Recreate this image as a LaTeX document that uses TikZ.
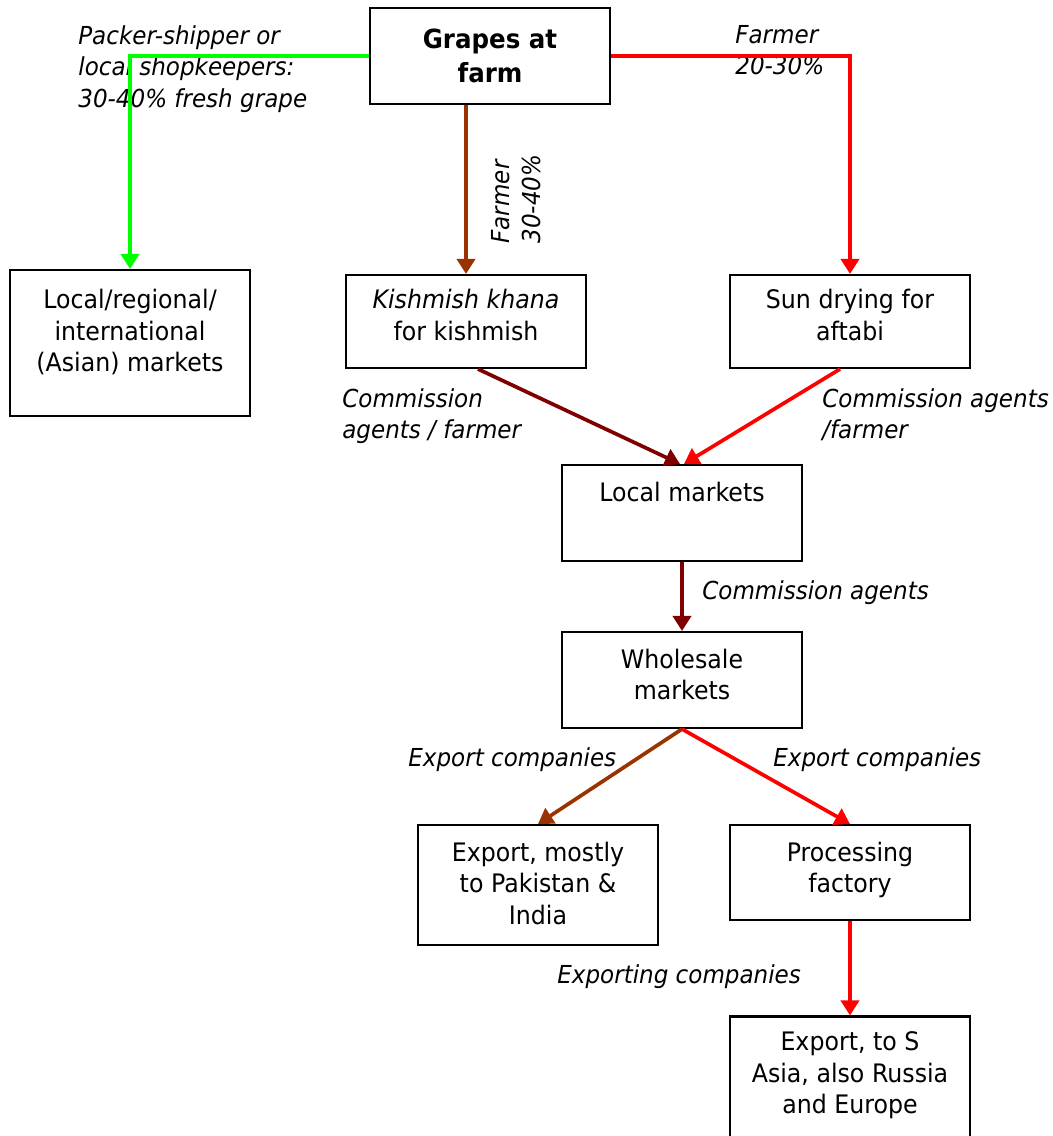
\documentclass[tikz,border=0pt]{standalone}
\usepackage{fontspec}
\setmainfont{DejaVu Sans}[FakeStretch=0.93]
\usetikzlibrary{arrows.meta,positioning}
\definecolor{grapegreen}{RGB}{0,255,0}
\definecolor{grapebrown}{RGB}{153,51,0}
\definecolor{grapedark}{RGB}{128,0,0}
\definecolor{grapered}{RGB}{255,0,0}

\begin{document}
\begin{tikzpicture}[
x=0.02cm,
y=0.02cm,
boxnode/.style={rectangle, draw=black, line width=1.2pt, minimum width=4.8cm, inner sep=0pt},
boxtext/.style={anchor=north, align=center, inner sep=0pt, font=\fontsize{14.5}{17.9}\selectfont},
flowlabel/.style={anchor=north west, align=left, inner sep=0pt, font=\fontsize{14.1}{17.9}\selectfont\itshape},
flow/.style={line width=2.1pt, -{Triangle[width=0.36cm,length=0.3cm]}},
]
\useasboundingbox[fill=white] (0,0) rectangle (1052,-1136);

% boxes
\node[boxnode, minimum height=1.92cm, align=center, font=\fontsize{15}{19.8}\selectfont\bfseries] (farm) at (490,-56) {Grapes at\\farm};
\node[boxnode, minimum height=2.92cm] (local) at (130,-343) {};
\node[boxnode, minimum height=1.86cm] (kish) at (466,-321.5) {};
\node[boxnode, minimum height=1.86cm] (sun) at (850,-321.5) {};
\node[boxnode, minimum height=1.92cm] (lmkt) at (682,-513) {};
\node[boxnode, minimum height=1.92cm] (whole) at (682,-680) {};
\node[boxnode, minimum height=2.4cm] (expo) at (538,-885) {};
\node[boxnode, minimum height=1.9cm] (proc) at (850,-872.5) {};
\node[boxnode, minimum height=2.7cm] (final) at (850,-1084) {};

% box texts
\node[boxtext] (local-t) at ([yshift=-0.4cm]local.north) {Local/regional/\\international\\(Asian) markets};
\node[boxtext] (kish-t) at ([yshift=-0.3cm]kish.north) {\textit{Kishmish khana}\\for kishmish};
\node[boxtext] (sun-t) at ([yshift=-0.3cm]sun.north) {Sun drying for\\aftabi};
\node[boxtext] (lmkt-t) at ([yshift=-0.35cm]lmkt.north) {Local markets};
\node[boxtext] (whole-t) at ([yshift=-0.35cm]whole.north) {Wholesale\\markets};
\node[boxtext] (expo-t) at ([yshift=-0.35cm]expo.north) {Export, mostly\\to Pakistan \&\\India};
\node[boxtext] (proc-t) at ([yshift=-0.35cm]proc.north) {Processing\\factory};
\node[boxtext] (final-t) at ([yshift=-0.32cm]final.north) {Export, to S\\Asia, also Russia\\and Europe};

% labels
\node[flowlabel] (packer) at (78,-25) {Packer-shipper or\\local shopkeepers:\\30-40\% fresh grape};
\begin{scope}
\clip (725,-15) rectangle (845,-74);
\node[flowlabel] (farmerR) at (735,-25) {Farmer\\20-30\%};
\end{scope}
\node[flowlabel, anchor=center, rotate=90] (farmerM) at (516,-199) {Farmer\\30-40\%};
\node[flowlabel] (commL) at (342,-388) {Commission\\agents / farmer};
\node[flowlabel] (commR) at (822,-388) {Commission agents\\/farmer};
\node[flowlabel] (commM) at (702,-580) {Commission agents};
\node[flowlabel] (exL) at (408,-747) {Export companies};
\node[flowlabel] (exR) at (773,-747) {Export companies};
\node[flowlabel] (exing) at (557,-964) {Exporting companies};

% connectors
\draw[flow, grapegreen] (farm.west) -| (local.north);
\draw[flow, grapered] (farm.east) -| (sun.north);
\draw[flow, grapebrown] (kish.north |- farm.south) -- (kish.north);
\draw[flow, grapedark] ([xshift=0.24cm]kish.south) -- ([xshift=-0.04cm]lmkt.north);
\draw[flow, grapered] ([xshift=-0.2cm]sun.south) -- ([xshift=0.04cm]lmkt.north);
\draw[flow, grapedark] (lmkt.south) -- (whole.north);
\draw[flow, grapebrown] (whole.south) -- (expo.north);
\draw[flow, grapered] (whole.south) -- (proc.north);
\draw[flow, grapered] (proc.south) -- (final.north);
\end{tikzpicture}
\end{document}
